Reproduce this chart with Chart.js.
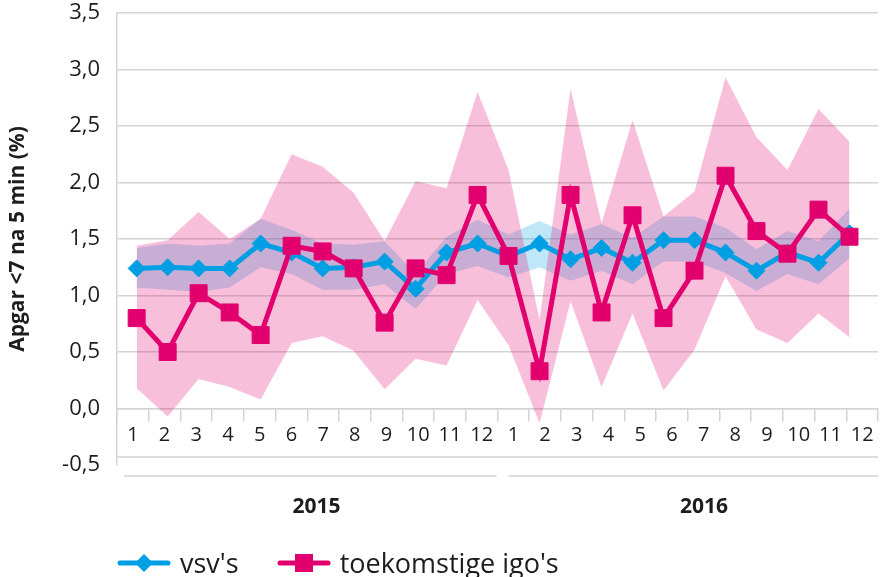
<!DOCTYPE html>
<html>
<head>
<meta charset="utf-8">
<script src="https://cdn.jsdelivr.net/npm/chart.js@4.4.1/dist/chart.umd.min.js"></script>
<style>
  html, body { margin: 0; padding: 0; background: #fff; }
  #wrap { position: relative; width: 891px; height: 577px; }
  #legend {
    position: absolute; left: 117px; top: 548px; height: 30px;
    display: flex; align-items: center;
    font-family: "Open Sans", sans-serif; font-size: 27px; line-height: 30px; color: #1d1d1b;
  }
  .item { display: flex; align-items: center; margin-right: 38px; }
  .item svg { margin-right: 9px; }
</style>
</head>
<body>
<div id="wrap">
  <canvas id="chart" width="891" height="577"></canvas>
  <div id="legend"></div>
</div>
<script>
// months of 2015 and 2016, year groups below them
const monthLabels = ['1', '2', '3', '4', '5', '6', '7', '8', '9', '10', '11', '12',
                     '1', '2', '3', '4', '5', '6', '7', '8', '9', '10', '11', '12'];
const yearLabels = ['2015', '2016'];

// vsv's: percentage Apgar <7 at 5 min, with confidence band
const vsv     = [1.24, 1.25, 1.24, 1.24, 1.46, 1.38, 1.24, 1.25, 1.30, 1.06, 1.38, 1.46,
                 1.35, 1.46, 1.32, 1.42, 1.29, 1.49, 1.49, 1.38, 1.22, 1.38, 1.29, 1.55];
const vsvLow  = [1.07, 1.05, 1.03, 1.07, 1.25, 1.19, 1.05, 1.05, 1.10, 0.88, 1.19, 1.26,
                 1.16, 1.25, 1.13, 1.22, 1.10, 1.30, 1.30, 1.20, 1.04, 1.19, 1.10, 1.33];
const vsvHigh = [1.42, 1.46, 1.44, 1.46, 1.68, 1.58, 1.46, 1.45, 1.48, 1.19, 1.52, 1.67,
                 1.54, 1.66, 1.54, 1.63, 1.51, 1.70, 1.70, 1.60, 1.41, 1.57, 1.48, 1.77];

// toekomstige igo's
const igo     = [0.80, 0.50, 1.02, 0.85, 0.65, 1.44, 1.39, 1.24, 0.76, 1.24, 1.18, 1.89,
                 1.35, 0.33, 1.89, 0.85, 1.71, 0.80, 1.22, 2.06, 1.57, 1.37, 1.76, 1.52];
const igoLow  = [0.18, -0.07, 0.26, 0.19, 0.08, 0.58, 0.64, 0.51, 0.17, 0.44, 0.38, 0.96,
                 0.56, -0.13, 0.95, 0.19, 0.84, 0.16, 0.52, 1.17, 0.70, 0.58, 0.84, 0.63];
const igoHigh = [1.44, 1.49, 1.74, 1.50, 1.68, 2.25, 2.14, 1.91, 1.48, 2.01, 1.95, 2.80,
                 2.11, 0.78, 2.83, 1.64, 2.55, 1.70, 1.92, 2.93, 2.40, 2.11, 2.65, 2.36];

const BLUE = '#009fe3';
const PINK = '#e2006f';
const GRID = '#d4d4d4';
const TEXT = '#1d1d1b';

const pts = arr => arr.map((v, i) => ({ x: i, y: v }));

Chart.defaults.font.family = '"Open Sans", sans-serif';
Chart.defaults.color = TEXT;

// separator lines under the month labels, split between the two years
const groupLines = {
    id: 'groupLines',
    afterDraw(chart) {
        const { ctx, chartArea } = chart;
        const months = chart.scales.months;
        const split = (months.getPixelForTick(11) + months.getPixelForTick(12)) / 2;
        const y1 = chartArea.bottom - 8;
        const y2 = chartArea.bottom + 11;
        ctx.save();
        ctx.strokeStyle = GRID;
        ctx.lineWidth = 1.5;
        ctx.beginPath();
        ctx.moveTo(chartArea.left, y1);
        ctx.lineTo(chartArea.right, y1);
        ctx.moveTo(chartArea.left + 7, y2);
        ctx.lineTo(split - 1, y2);
        ctx.moveTo(split + 11, y2);
        ctx.lineTo(chartArea.right, y2);
        ctx.stroke();
        ctx.restore();
    }
};

const band = (data, color, order) => ({
    data: pts(data),
    borderWidth: 0,
    pointRadius: 0,
    backgroundColor: color,
    order
});

const chart = new Chart(document.getElementById('chart'), {
    type: 'line',
    data: {
        datasets: [
            {
                label: "toekomstige igo's",
                data: pts(igo),
                borderColor: PINK,
                backgroundColor: PINK,
                borderWidth: 5,
                pointStyle: 'rect',
                pointRadius: 12,
                pointBorderWidth: 1,
                tension: 0,
                order: 0
            },
            {
                label: "vsv's",
                data: pts(vsv),
                borderColor: BLUE,
                backgroundColor: BLUE,
                borderWidth: 5,
                pointStyle: 'rectRot',
                pointRadius: 8.5,
                pointBorderWidth: 1,
                tension: 0,
                order: 1
            },
            { ...band(igoLow, 'rgba(226,0,111,0.25)', 2), fill: false },
            { ...band(igoHigh, 'rgba(226,0,111,0.25)', 2), fill: 2 },
            { ...band(vsvLow, 'rgba(0,159,227,0.25)', 3), fill: false },
            { ...band(vsvHigh, 'rgba(0,159,227,0.25)', 3), fill: 4 }
        ]
    },
    options: {
        responsive: false,
        animation: false,
        layout: { padding: { top: 10, right: 0, bottom: 0, left: 0 } },
        plugins: {
            legend: { display: false },
            tooltip: { enabled: false }
        },
        scales: {
            x: {
                type: 'linear',
                display: false,
                min: -0.6345,
                max: 23.92
            },
            months: {
                type: 'category',
                axis: 'x',
                labels: monthLabels,
                position: { y: 0 },
                offset: true,
                grid: {
                    offset: true,
                    drawOnChartArea: false,
                    color: GRID,
                    lineWidth: 1.5,
                    tickLength: 12
                },
                border: { color: GRID, width: 1.5 },
                ticks: {
                    autoSkip: false,
                    maxRotation: 0,
                    padding: 3,
                    color: TEXT,
                    font: { size: 20 }
                }
            },
            // one tick per year, placed under its group of months
            years: {
                type: 'linear',
                axis: 'x',
                position: 'bottom',
                min: -0.515,
                max: 1.449,
                grid: { display: false, drawTicks: false },
                border: { display: false },
                afterBuildTicks(scale) {
                    scale.ticks = yearLabels.map((_, i) => ({ value: i }));
                },
                ticks: {
                    padding: 29,
                    color: TEXT,
                    font: { size: 21, weight: 'bold' },
                    callback: v => yearLabels[v]
                },
                afterFit(scale) {
                    scale.height = 112;
                }
            },
            y: {
                min: -0.5,
                max: 3.5,
                ticks: {
                    stepSize: 0.5,
                    padding: 0,
                    color: TEXT,
                    font: { size: 22, lineHeight: 0.9 },
                    callback: v => v.toFixed(1).replace('.', ',')
                },
                grid: {
                    drawTicks: true,
                    tickLength: 17,
                    tickColor: 'rgba(0,0,0,0)',
                    lineWidth: 1.5,
                    color: ctx => ctx.tick && ctx.tick.value === -0.5 ? 'rgba(0,0,0,0)' : GRID
                },
                border: { color: GRID, width: 1.5 },
                title: {
                    display: true,
                    text: 'Apgar <7 na 5 min (%)',
                    color: TEXT,
                    font: { size: 21, weight: 'bold' },
                    padding: { top: 5, bottom: 0 }
                },
                afterFit(scale) {
                    scale.width = 117;
                }
            }
        }
    },
    plugins: [groupLines]
});

// legend: line with marker, then the series name
const legendItems = [
    { text: "vsv's", color: BLUE, marker: '<polygon points="27,1 36,10 27,19 18,10"/>' },
    { text: "toekomstige igo's", color: PINK, marker: '<rect x="18" y="1" width="18" height="18"/>' }
];
document.getElementById('legend').innerHTML = legendItems.map(it =>
    '<div class="item"><svg width="54" height="20" viewBox="0 0 54 20">' +
    '<line x1="3" y1="10" x2="51" y2="10" stroke="' + it.color + '" stroke-width="5" stroke-linecap="round"/>' +
    '<g fill="' + it.color + '">' + it.marker + '</g></svg>' +
    '<span>' + it.text + '</span></div>'
).join('');
</script>
</body>
</html>
